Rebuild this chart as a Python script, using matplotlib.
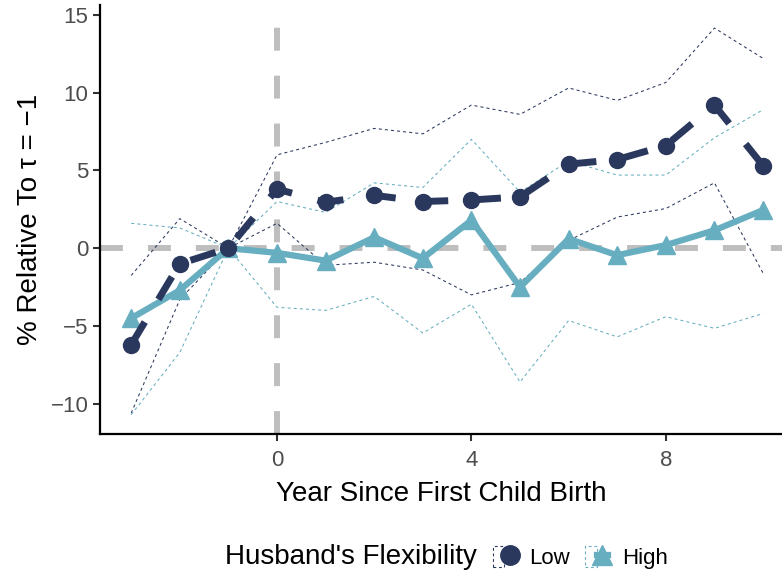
import matplotlib
matplotlib.use('Agg')
import matplotlib.pyplot as plt
from matplotlib.lines import Line2D
from matplotlib.patches import Rectangle
from matplotlib.legend_handler import HandlerTuple

plt.rcParams['font.family'] = ['Liberation Sans', 'DejaVu Sans']
plt.rcParams['lines.scale_dashes'] = False

# event time relative to first birth
years = [-3, -2, -1, 0, 1, 2, 3, 4, 5, 6, 7, 8, 9, 10]

# husband's flexibility: low
low_est = [-6.2, -1.0, 0.0, 3.8, 2.95, 3.4, 3.0, 3.1, 3.3, 5.4, 5.7, 6.6, 9.2, 5.3]
low_hi = [-1.75, 1.9, 0.0, 6.0, 6.8, 7.7, 7.35, 9.2, 8.6, 10.3, 9.5, 10.65, 14.15, 12.2]
low_lo = [-10.6, -3.3, 0.0, 1.6, -1.1, -0.9, -1.4, -3.0, -2.2, 0.5, 2.0, 2.55, 4.2, -1.6]

# husband's flexibility: high
high_est = [-4.5, -2.7, 0.0, -0.3, -0.8, 0.7, -0.65, 1.8, -2.5, 0.6, -0.45, 0.2, 1.15, 2.45]
high_hi = [1.6, 1.3, 0.0, 3.0, 2.3, 4.2, 3.9, 7.0, 3.6, 5.6, 4.7, 4.7, 7.1, 8.9]
high_lo = [-10.7, -6.7, 0.0, -3.8, -4.0, -3.1, -5.45, -3.6, -8.6, -4.65, -5.7, -4.4, -5.15, -4.2]

navy = '#2B385E'
teal = '#67AEC0'
grey = '#BEBEBE'

fig = plt.figure(figsize=(7.82, 5.75), dpi=100)
ax = fig.add_axes([0.128, 0.245, 0.872, 0.746])

# reference lines
ax.axhline(0, color=grey, lw=4.3, dashes=(16.5, 18), zorder=1)
ax.axvline(0, color=grey, lw=4.3, dashes=(16.5, 18), zorder=1)

# confidence bounds
for vals, c in [(low_hi, navy), (low_lo, navy), (high_hi, teal), (high_lo, teal)]:
    ax.plot(years, vals, color=c, lw=0.75, dashes=(2.2, 2.2), zorder=2)

ax.plot(years, high_est, color=teal, lw=4.5, marker='^', markersize=13,
        solid_joinstyle='miter', zorder=3)
ax.plot(years, low_est, color=navy, lw=5, dashes=(19, 19), marker='o',
        markersize=11.5, dash_capstyle='butt', zorder=4)

ax.set_xlim(-3.64, 10.39)
ax.set_ylim(-11.95, 15.62)
ax.set_xticks([0, 4, 8])
ax.set_yticks([-10, -5, 0, 5, 10, 15])
ax.set_yticklabels(['\u221210', '\u22125', '0', '5', '10', '15'])
ax.tick_params(labelsize=16, labelcolor='#4D4D4D', color='#333333', length=5, width=1.5)
ax.tick_params(axis='x', pad=6.5)

for s in ['top', 'right']:
    ax.spines[s].set_visible(False)
for s in ['left', 'bottom']:
    ax.spines[s].set_linewidth(1.6)
    ax.spines[s].set_color('black')

ax.set_xlabel('Year Since First Child Birth', fontsize=20, labelpad=7)
ax.set_ylabel('% Relative To \u03c4 = \u22121', fontsize=20)
ax.yaxis.set_label_coords(-0.083, 0.5)

# legend
h_low = (Rectangle((0, 0), 1, 1, facecolor='white', edgecolor=navy, lw=0.8, linestyle=(0, (2, 2))),
         Line2D([], [], color=navy, lw=5, marker='o', markersize=14))
h_high = (Rectangle((0, 0), 1, 1, facecolor='white', edgecolor=teal, lw=0.8, linestyle=(0, (2, 2))),
          Line2D([], [], color=teal, lw=4.5, marker='^', markersize=14))
fig.text(0.288, 0.031, "Husband's Flexibility", fontsize=20, ha='left', va='center')
fig.legend([h_low, h_high], ['Low', 'High'], ncol=2, loc='center left',
           bbox_to_anchor=(0.630, 0.031), frameon=False, fontsize=16,
           handler_map={tuple: HandlerTuple(ndivide=None)},
           handlelength=1.03, handleheight=1.08, columnspacing=0.67, handletextpad=0.63,
           borderpad=0, borderaxespad=0)

fig.savefig('out.png', dpi=100)
